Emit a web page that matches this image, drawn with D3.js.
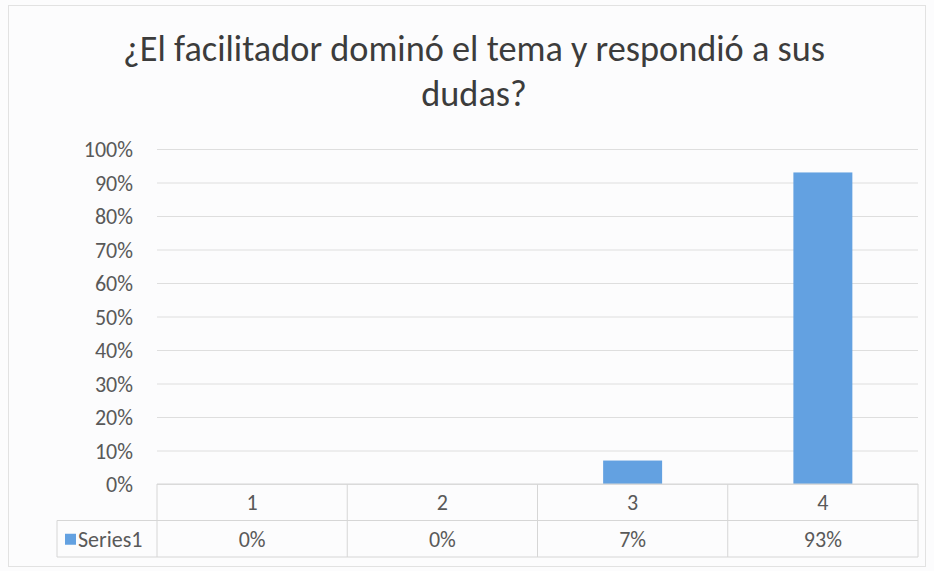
<!DOCTYPE html>
<html>
<head>
<meta charset="utf-8">
<script src="https://cdn.jsdelivr.net/npm/d3@7"></script>
<style>
	body { margin: 0; background: #fcfcfd; }
	svg { display: block; font-family: Carlito, Lato, 'Open Sans', sans-serif; }
	.tick text { fill: #595959; font-size: 22px; }
	.tick line { stroke: #dedede; }
</style>
</head>
<body>
<svg width="934" height="571"></svg>
<script>
const titleLines = ['¿El facilitador dominó el tema y respondió a sus', 'dudas?'];
const categories = ['1', '2', '3', '4'];
const seriesName = 'Series1';
const values = [0, 0, 0.07, 0.93];
const yTicks = [0, 0.1, 0.2, 0.3, 0.4, 0.5, 0.6, 0.7, 0.8, 0.9, 1];

const svg = d3.select('svg');
const width = +svg.attr('width');
const height = +svg.attr('height');

const plot = { left: 157, right: 918, top: 149, bottom: 484 };
const rowH = 36.5;
const legendLeft = 57;
const barColor = '#63a1e1';
const textColor = '#595959';
const lineColor = '#d6d6d6';
const tableFont = '22px';

// outer chart border
svg.append('rect')
	.attr('x', 8.5).attr('y', 5.5)
	.attr('width', width - 17).attr('height', height - 10)
	.attr('fill', 'none')
	.attr('stroke', '#e2e2e2');

// title, sized so that the first line spans like the original
const titleText = svg.append('g').selectAll('text')
	.data(titleLines)
	.enter()
	.append('text')
	.attr('x', 474)
	.attr('y', (d, i) => 61 + i * 45)
	.attr('text-anchor', 'middle')
	.attr('fill', '#3c3c3c')
	.style('font-size', '30px')
	.text(d => d);
const w0 = titleText.node().getComputedTextLength();
titleText.style('font-size', `${(30 * 702 / w0).toFixed(2)}px`);

const xScale = d3.scaleBand()
	.domain(categories)
	.range([plot.left, plot.right])
	.paddingInner(0.69)
	.paddingOuter(0.345);

const cellScale = d3.scaleBand()
	.domain(categories)
	.range([plot.left, plot.right]);

const yScale = d3.scaleLinear()
	.domain([0, 1])
	.range([plot.bottom, plot.top]);

const yAxis = d3.axisLeft(yScale)
	.tickValues(yTicks)
	.tickFormat(d3.format('.0%'))
	.tickSize(-(plot.right - plot.left))
	.tickPadding(24);

const yAxisG = svg.append('g')
	.attr('transform', `translate(${plot.left},0)`)
	.call(yAxis)
	.attr('font-family', null)
	.attr('font-size', null);
yAxisG.select('.domain').remove();
yAxisG.selectAll('.tick text').attr('dy', '0.36em');

// bars
svg.selectAll('.bar')
	.data(values)
	.enter()
	.append('rect')
	.attr('class', 'bar')
	.attr('x', (d, i) => xScale(categories[i]))
	.attr('y', d => yScale(d))
	.attr('width', xScale.bandwidth())
	.attr('height', d => yScale(0) - yScale(d))
	.attr('fill', barColor);

// data table
const table = svg.append('g').attr('stroke', lineColor).attr('fill', 'none');
const r1 = plot.bottom + rowH;
const r2 = plot.bottom + rowH * 2;
table.append('line').attr('x1', plot.left).attr('x2', plot.right).attr('y1', plot.bottom).attr('y2', plot.bottom);
table.append('line').attr('x1', legendLeft).attr('x2', plot.right).attr('y1', r1).attr('y2', r1);
table.append('line').attr('x1', legendLeft).attr('x2', plot.right).attr('y1', r2).attr('y2', r2);
table.append('line').attr('x1', legendLeft).attr('x2', legendLeft).attr('y1', r1).attr('y2', r2);
table.selectAll('.col')
	.data(categories.concat(['end']))
	.enter()
	.append('line')
	.attr('x1', (d, i) => plot.left + i * cellScale.step())
	.attr('x2', (d, i) => plot.left + i * cellScale.step())
	.attr('y1', plot.bottom)
	.attr('y2', r2);

svg.selectAll('.cat-label')
	.data(categories)
	.enter()
	.append('text')
	.attr('x', d => cellScale(d) + cellScale.bandwidth() / 2)
	.attr('y', plot.bottom + rowH / 2)
	.attr('dy', '0.36em')
	.attr('text-anchor', 'middle')
	.attr('fill', textColor)
	.style('font-size', tableFont)
	.text(d => d);

svg.selectAll('.val-label')
	.data(values)
	.enter()
	.append('text')
	.attr('x', (d, i) => cellScale(categories[i]) + cellScale.bandwidth() / 2)
	.attr('y', r1 + rowH / 2)
	.attr('dy', '0.36em')
	.attr('text-anchor', 'middle')
	.attr('fill', textColor)
	.style('font-size', tableFont)
	.text(d => d3.format('.0%')(d));

// legend key inside the table
svg.append('rect')
	.attr('x', legendLeft + 8)
	.attr('y', r1 + rowH / 2 - 5)
	.attr('width', 11)
	.attr('height', 11)
	.attr('fill', barColor);
svg.append('text')
	.attr('x', legendLeft + 21)
	.attr('y', r1 + rowH / 2)
	.attr('dy', '0.36em')
	.attr('fill', textColor)
	.style('font-size', tableFont)
	.text(seriesName);
</script>
</body>
</html>
